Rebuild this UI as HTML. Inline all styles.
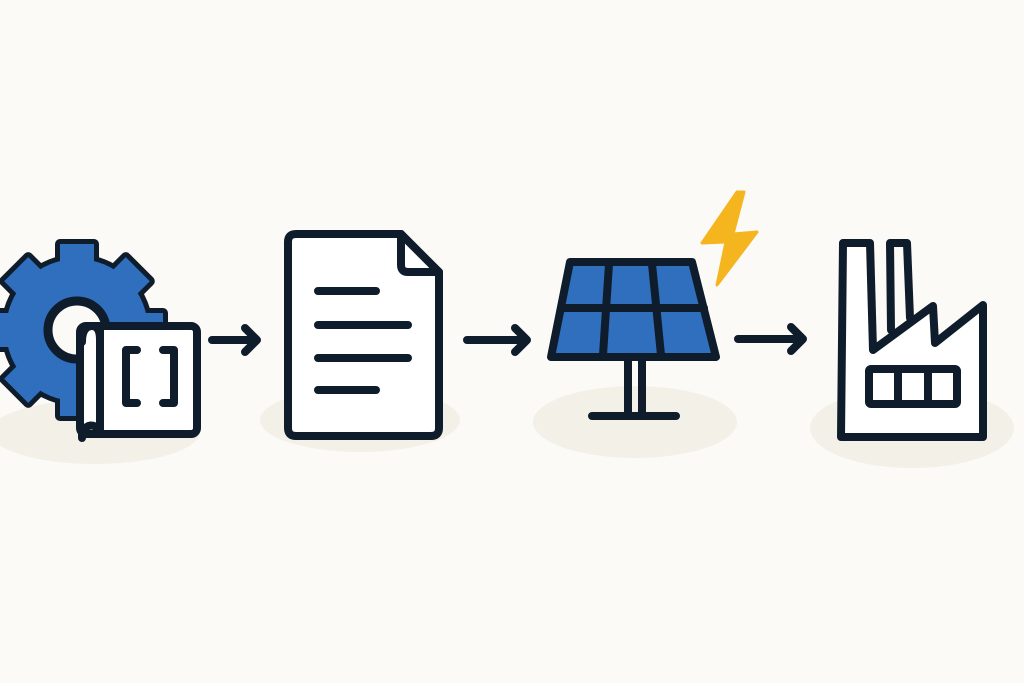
<!DOCTYPE html>
<html><head><meta charset="utf-8"><style>html,body{margin:0;padding:0;background:#fbfaf7}svg{display:block}</style></head>
<body>
<svg width="1024" height="683" viewBox="0 0 1024 683" xmlns="http://www.w3.org/2000/svg">
<rect width="1024" height="683" fill="#fbfaf7"/>
<g fill="#f3f0e7">
<ellipse cx="95" cy="432" rx="105" ry="32"/>
<ellipse cx="360" cy="420" rx="100" ry="32"/>
<ellipse cx="635" cy="422" rx="102" ry="36"/>
<ellipse cx="912" cy="428" rx="102" ry="40"/>
</g>
<!-- gear -->
<g transform="translate(77,330)">
<g fill="#0f1c2b" stroke="#0f1c2b" stroke-width="10" stroke-linejoin="round">
<circle r="71"/>
<g id="t"><rect x="-17" y="-86" width="34" height="30"/></g>
<use href="#t" transform="rotate(45)"/><use href="#t" transform="rotate(90)"/><use href="#t" transform="rotate(135)"/>
<use href="#t" transform="rotate(180)"/><use href="#t" transform="rotate(225)"/><use href="#t" transform="rotate(270)"/><use href="#t" transform="rotate(315)"/>
</g>
<g fill="#2f6fbd">
<circle r="71"/>
<g id="t2"><rect x="-17" y="-86" width="34" height="30"/></g>
<use href="#t2" transform="rotate(45)"/><use href="#t2" transform="rotate(90)"/><use href="#t2" transform="rotate(135)"/>
<use href="#t2" transform="rotate(180)"/><use href="#t2" transform="rotate(225)"/><use href="#t2" transform="rotate(270)"/><use href="#t2" transform="rotate(315)"/>
</g>
<circle r="29" fill="#fbfaf7" stroke="#0f1c2b" stroke-width="9"/>
</g>
<g fill="none" stroke="#0f1c2b" stroke-width="8" stroke-linecap="round" stroke-linejoin="round">
<!-- blueprint -->
<rect x="80" y="326" width="117" height="108" rx="6" fill="#fff"/>
<path d="M100 330 V430 Q90 420 82 432 V438 M82 342 Q82 326 92 326 Q100 326 100 340" fill="#fff"/>
<path d="M137 350 H126 V403 H137 M163 350 H174 V403 H163"/>
<!-- arrows -->
<path d="M212 340 H256 M245 328 L257 340 L245 352"/>
<path d="M467 340 H526 M515 328 L527 340 L515 352"/>
<path d="M738 339 H802 M791 327 L803 339 L791 351"/>
<!-- document -->
<path d="M296 234 H401 L439 272 V428 Q439 436 431 436 H296 Q288 436 288 428 V242 Q288 234 296 234 Z" fill="#fff"/>
<path d="M401 234 V265 Q401 272 408 272 H439"/>
<path d="M318 291 H376 M318 325 H408 M318 358 H408 M318 390 H376"/>
<!-- solar -->
<path d="M570 262 H692 L716 357 H551 Z" fill="#2f6fbd"/>
<path d="M609 264 L603 355 M652 264 L661 355 M561 308 H704"/>
<path d="M628 360 V414 M642 360 V414 M592 416 H676"/>
<!-- factory -->
<path d="M843 243 H870 L873 350 L933 306 L935 343 L983 305 V437 H841 Z" fill="#fff"/>
<path d="M891 330 L890 243 H907 L910 318"/>
<rect x="869" y="369" width="88" height="35" rx="2"/>
<path d="M898 371 V402 M928 371 V402"/>
</g>
<!-- bolt -->
<polygon points="737,192 702,243 726,242 717,285 757,232 733,234 744,192" fill="#f5b51f" stroke="#f5b51f" stroke-width="3" stroke-linejoin="round"/>
</svg>
</body></html>
